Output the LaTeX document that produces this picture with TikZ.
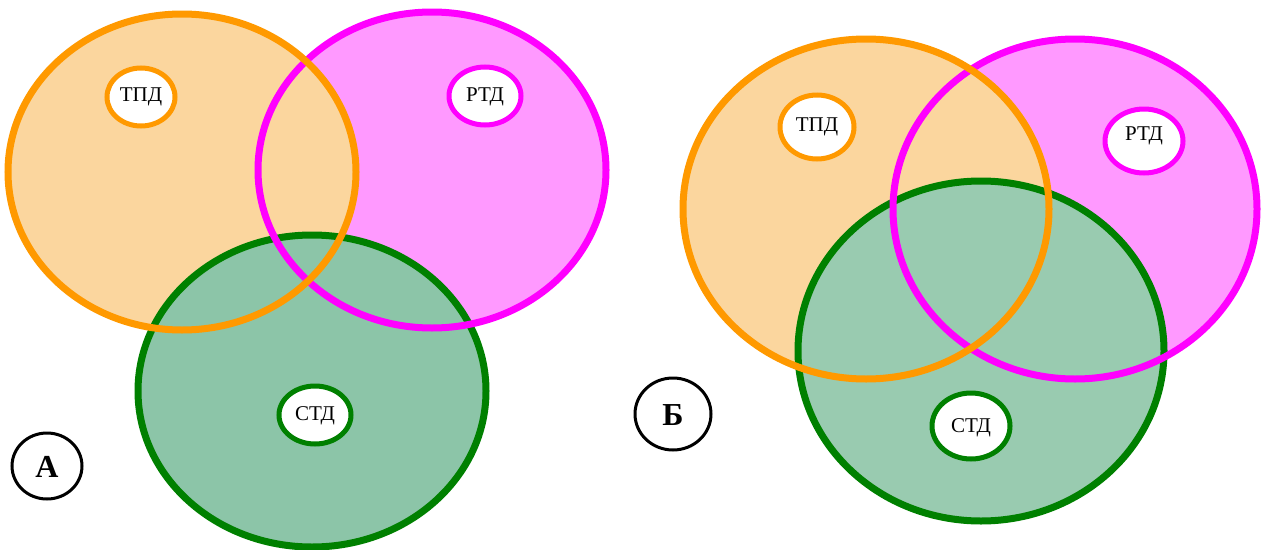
\documentclass[tikz,border=0pt]{standalone}
\usepackage{fontspec}
\setmainfont{Liberation Serif}
\definecolor{orS}{HTML}{FF9900}
\definecolor{orF}{HTML}{FBD69E}
\definecolor{piS}{HTML}{FF00FF}
\definecolor{piF}{HTML}{FF99FF}
\definecolor{grS}{HTML}{008000}
\definecolor{grFA}{HTML}{8CC5A8}
\definecolor{grFB}{HTML}{99CBB0}
\begin{document}
\begin{tikzpicture}[x=1pt,y=-1pt,
  bigring/.style={line width=7pt},
  smallring/.style={line width=5pt, draw=#1, fill=white},
  tagtext/.style={font=\fontsize{21}{21}\selectfont, inner sep=0pt},
  lblring/.style={line width=3pt, draw=black, fill=white},
  lbltext/.style={font=\fontsize{32}{32}\selectfont\bfseries, inner sep=0pt}]
\useasboundingbox (0,0) rectangle (1261,549);
% ---------- A ----------
\fill[piF] (432,170) ellipse [x radius=174, y radius=158];
\fill[orF] (182,172) ellipse [x radius=174, y radius=158];
\fill[grFA] (312,391) ellipse [x radius=174, y radius=156];
\draw[bigring, grS] (312,391) ellipse [x radius=174, y radius=156];
\draw[bigring, piS] (432,170) ellipse [x radius=174, y radius=158];
\draw[bigring, orS] (182,172) ellipse [x radius=174, y radius=158];
\path[smallring=orS] (141,97) ellipse [x radius=34, y radius=29];
\node[tagtext] (tpdA) at (141,97) {ТПД};
\path[smallring=piS] (485,96) ellipse [x radius=36, y radius=29];
\node[tagtext] (rtdA) at (485,97) {РТД};
\path[smallring=grS] (315,415) ellipse [x radius=36, y radius=29];
\node[tagtext] (stdA) at (315,416) {СТД};
\path[lblring] (47,466) ellipse [x radius=35, y radius=33];
\node[lbltext] (labA) at (47,467) {А};
% ---------- B ----------
\fill[piF] (1075,209) ellipse [x radius=182, y radius=170];
\fill[orF] (866,209) ellipse [x radius=183, y radius=170];
\fill[grFB] (981,351) ellipse [x radius=183, y radius=170];
\draw[bigring, grS] (981,351) ellipse [x radius=183, y radius=170];
\draw[bigring, piS] (1075,209) ellipse [x radius=182, y radius=170];
\draw[bigring, orS] (866,209) ellipse [x radius=183, y radius=170];
\path[smallring=orS] (817,127) ellipse [x radius=37, y radius=32];
\node[tagtext] (tpdB) at (817,127) {ТПД};
\path[smallring=piS] (1144,141) ellipse [x radius=39, y radius=32];
\node[tagtext] (rtdB) at (1144,136) {РТД};
\path[smallring=grS] (971,426) ellipse [x radius=39, y radius=33];
\node[tagtext] (stdB) at (971,428) {СТД};
\path[lblring] (673,414) ellipse [x radius=38, y radius=36];
\node[lbltext] (labB) at (673,415) {Б};
\end{tikzpicture}
\end{document}
